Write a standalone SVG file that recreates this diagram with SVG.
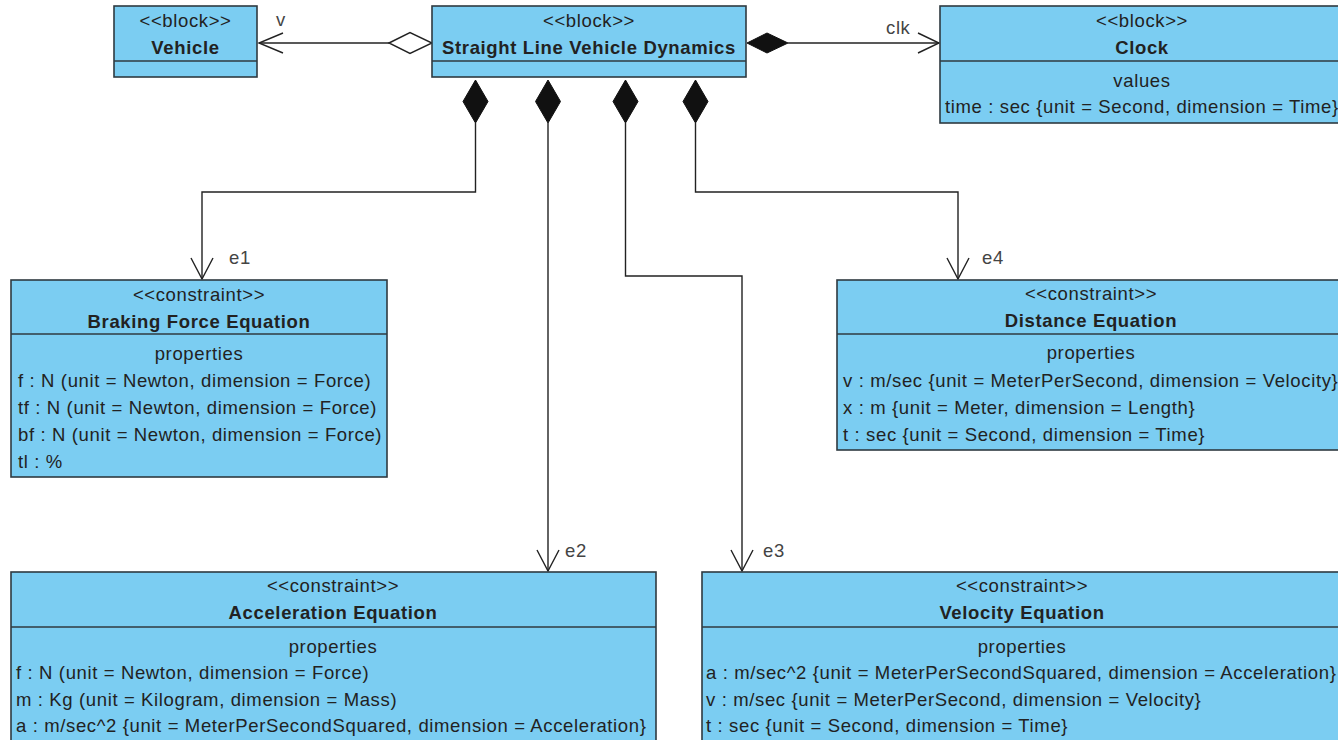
<svg xmlns="http://www.w3.org/2000/svg" width="1338" height="740" viewBox="0 0 1338 740">
  <style>
    .box { fill: #7BCDF2; stroke: #2f3a40; stroke-width: 1.6; }
    .div { stroke: #2f3a40; stroke-width: 1.6; }
    text { font-family: "Liberation Sans", Arial, sans-serif; font-size: 18.5px; fill: #222; letter-spacing: 0.63px; }
    .c { text-anchor: middle; }
    .b { font-weight: bold; letter-spacing: 0.65px; }
    .lbl { fill: #444; }
    .ln { fill: none; stroke: #222; stroke-width: 1.4; }
    .dia { fill: #111; stroke: #111; stroke-width: 1; }
    .odia { fill: #fff; stroke: #222; stroke-width: 1.4; }
  </style>

  <!-- connectors -->
  <g id="connectors">
    <!-- Straight Line Vehicle Dynamics to Vehicle (aggregation) -->
    <line class="ln" x1="259" y1="43" x2="389" y2="43"/>
    <polygon class="odia" points="389,43 410,32.5 432,43 410,53.5"/>
    <polyline class="ln" points="283,33 259,43 283,53"/>
    <text class="lbl" x="276" y="26">v</text>

    <!-- to Clock (composition) -->
    <polygon class="dia" points="747,43 767,33 788,43 767,53"/>
    <line class="ln" x1="788" y1="43" x2="939" y2="43"/>
    <polyline class="ln" points="918,33 939,43 918,53"/>
    <text class="lbl" x="886" y="34">clk</text>

    <!-- e1 -->
    <polygon class="dia" points="475.5,80 488,101.5 475.5,123 463,101.5"/>
    <polyline class="ln" points="475.5,123 475.5,192 202,192 202,279"/>
    <polyline class="ln" points="191,258 202,279 213,258"/>
    <text class="lbl" x="229" y="264">e1</text>

    <!-- e2 -->
    <polygon class="dia" points="548,80 560.5,101.5 548,123 535.5,101.5"/>
    <line class="ln" x1="548" y1="123" x2="548" y2="571"/>
    <polyline class="ln" points="537,550 548,571 559,550"/>
    <text class="lbl" x="565" y="557">e2</text>

    <!-- e3 -->
    <polygon class="dia" points="625.5,80 638,101.5 625.5,123 613,101.5"/>
    <polyline class="ln" points="625.5,123 625.5,276 742,276 742,571"/>
    <polyline class="ln" points="731,550 742,571 753,550"/>
    <text class="lbl" x="763" y="557">e3</text>

    <!-- e4 -->
    <polygon class="dia" points="695.5,80 708,101.5 695.5,123 683,101.5"/>
    <polyline class="ln" points="695.5,123 695.5,192 958,192 958,279"/>
    <polyline class="ln" points="947,258 958,279 969,258"/>
    <text class="lbl" x="982" y="264">e4</text>
  </g>

  <!-- Vehicle block -->
  <g id="vehicle">
    <rect class="box" x="114" y="6" width="143" height="71"/>
    <line class="div" x1="114" y1="61" x2="257" y2="61"/>
    <text class="c" x="185.5" y="27">&lt;&lt;block&gt;&gt;</text>
    <text class="c b" x="185.5" y="54">Vehicle</text>
  </g>

  <!-- Straight Line Vehicle Dynamics block -->
  <g id="slvd">
    <rect class="box" x="432" y="6" width="314" height="71"/>
    <line class="div" x1="432" y1="61" x2="746" y2="61"/>
    <text class="c" x="589" y="27">&lt;&lt;block&gt;&gt;</text>
    <text class="c b" x="589" y="54">Straight Line Vehicle Dynamics</text>
  </g>

  <!-- Clock block -->
  <g id="clock">
    <rect class="box" x="940" y="6" width="404" height="117"/>
    <line class="div" x1="940" y1="61" x2="1344" y2="61"/>
    <text class="c" x="1142" y="27">&lt;&lt;block&gt;&gt;</text>
    <text class="c b" x="1142" y="54">Clock</text>
    <text class="c" x="1142" y="87">values</text>
    <text x="945" y="113">time : sec {unit = Second, dimension = Time}</text>
  </g>

  <!-- Braking Force Equation constraint -->
  <g id="braking">
    <rect class="box" x="11" y="280" width="376" height="197"/>
    <line class="div" x1="11" y1="334" x2="387" y2="334"/>
    <text class="c" x="199" y="301">&lt;&lt;constraint&gt;&gt;</text>
    <text class="c b" x="199" y="328">Braking Force Equation</text>
    <text class="c" x="199" y="360">properties</text>
    <text x="18" y="387">f : N (unit = Newton, dimension = Force)</text>
    <text x="18" y="414">tf : N (unit = Newton, dimension = Force)</text>
    <text x="18" y="441">bf : N (unit = Newton, dimension = Force)</text>
    <text x="18" y="468">tl : %</text>
  </g>

  <!-- Distance Equation constraint -->
  <g id="distance">
    <rect class="box" x="837" y="280" width="508" height="170"/>
    <line class="div" x1="837" y1="334" x2="1345" y2="334"/>
    <text class="c" x="1091" y="300">&lt;&lt;constraint&gt;&gt;</text>
    <text class="c b" x="1091" y="327">Distance Equation</text>
    <text class="c" x="1091" y="359">properties</text>
    <text x="843" y="387">v : m/sec {unit = MeterPerSecond, dimension = Velocity}</text>
    <text x="843" y="414">x : m {unit = Meter, dimension = Length}</text>
    <text x="843" y="441">t : sec {unit = Second, dimension = Time}</text>
  </g>

  <!-- Acceleration Equation constraint -->
  <g id="acceleration">
    <rect class="box" x="11" y="572" width="645" height="190"/>
    <line class="div" x1="11" y1="627" x2="656" y2="627"/>
    <text class="c" x="333" y="592">&lt;&lt;constraint&gt;&gt;</text>
    <text class="c b" x="333" y="619">Acceleration Equation</text>
    <text class="c" x="333" y="653">properties</text>
    <text x="16" y="679">f : N (unit = Newton, dimension = Force)</text>
    <text x="16" y="706">m : Kg (unit = Kilogram, dimension = Mass)</text>
    <text x="16" y="732">a : m/sec^2 {unit = MeterPerSecondSquared, dimension = Acceleration}</text>
  </g>

  <!-- Velocity Equation constraint -->
  <g id="velocity">
    <rect class="box" x="702" y="572" width="640" height="190"/>
    <line class="div" x1="702" y1="627" x2="1342" y2="627"/>
    <text class="c" x="1022" y="592">&lt;&lt;constraint&gt;&gt;</text>
    <text class="c b" x="1022" y="619">Velocity Equation</text>
    <text class="c" x="1022" y="653">properties</text>
    <text x="706" y="679">a : m/sec^2 {unit = MeterPerSecondSquared, dimension = Acceleration}</text>
    <text x="706" y="706">v : m/sec {unit = MeterPerSecond, dimension = Velocity}</text>
    <text x="706" y="732">t : sec {unit = Second, dimension = Time}</text>
  </g>
</svg>
